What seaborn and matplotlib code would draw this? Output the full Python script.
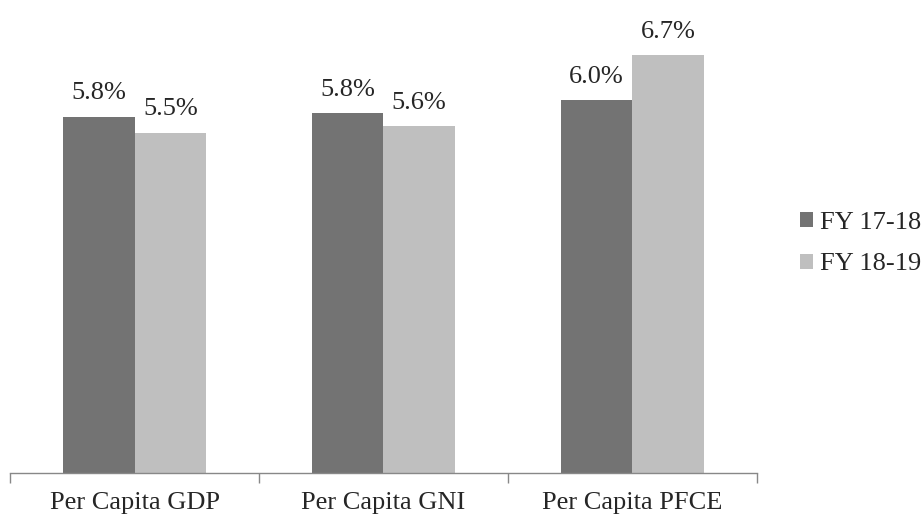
import matplotlib
matplotlib.use("Agg")
import matplotlib.pyplot as plt
import seaborn as sns
import pandas as pd
from matplotlib.patches import Patch

categories = ["Per Capita GDP", "Per Capita GNI", "Per Capita PFCE"]
series_names = ["FY 17-18", "FY 18-19"]
fy1718 = [5.75, 5.8, 6.0]
fy1819 = [5.5, 5.6, 6.7]
colors = ["#737373", "#BFBFBF"]

df = pd.DataFrame({
    "category": categories * 2,
    "series": [series_names[0]] * 3 + [series_names[1]] * 3,
    "value": fy1718 + fy1819,
})

sns.set_style("white")
plt.rcParams["font.family"] = ["Liberation Serif", "DejaVu Serif"]

fig = plt.figure(figsize=(9.24, 5.15), dpi=100)
ax = fig.add_axes([0.011, 0.0816, 0.808, 0.9184])

sns.barplot(data=df, x="category", y="value", hue="series",
            palette=colors, width=0.575, ax=ax, legend=False,
            saturation=1, linewidth=0)

for cont in ax.containers:
    ax.bar_label(cont, labels=[f"{v:.1f}%" for v in cont.datavalues],
                 padding=9, fontsize=19)

ax.set_ylim(0.25, 7.55)
ax.set_xlim(-0.5, 2.5)
ax.set_yticks([])
ax.set_xlabel("")
ax.set_ylabel("")
for s in ["top", "right", "left"]:
    ax.spines[s].set_visible(False)
ax.spines["bottom"].set_color("#888888")
ax.spines["bottom"].set_linewidth(1)

ax.set_xticks([0, 1, 2])
ax.set_xticklabels(categories, fontsize=19)
ax.set_xticks([-0.5, 0.5, 1.5, 2.5], minor=True)
ax.tick_params(axis="x", which="both", bottom=True)
ax.tick_params(axis="x", which="major", length=0, pad=14)
ax.tick_params(axis="x", which="minor", length=7, color="#888888", width=1, direction="out")

handles = [Patch(facecolor=c, edgecolor="none") for c in colors]
fig.legend(handles, series_names, loc="center left", bbox_to_anchor=(0.846, 0.527),
           frameon=False, fontsize=19, handlelength=0.5, handleheight=0.5,
           handletextpad=0.25, labelspacing=0.75, borderpad=0.2)

fig.savefig("out.png", dpi=100)
